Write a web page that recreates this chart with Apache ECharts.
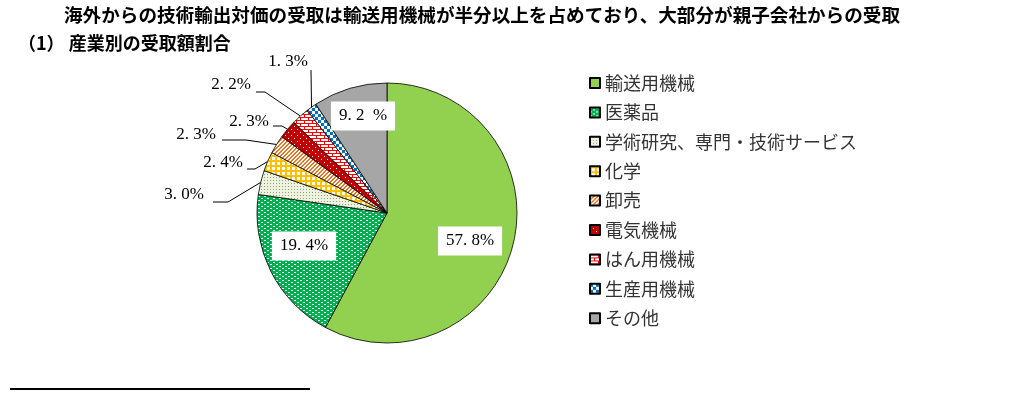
<!DOCTYPE html>
<html>
<head>
<meta charset="UTF-8">
<title></title>
<style>
  html, body { margin: 0; padding: 0; background: #fff; }
  #container { width: 1010px; height: 404px; }
</style>
</head>
<body>
<div id="container"></div>
<script src="https://cdn.jsdelivr.net/npm/echarts@6/dist/echarts.min.js"></script>
<script>
// data
var categories = ['輸送用機械', '医薬品', '学術研究、専門・技術サービス', '化学', '卸売',
  '電気機械', 'はん用機械', '生産用機械', 'その他'];
var shares = [57.8, 19.4, 3.0, 2.4, 2.3, 2.3, 2.2, 1.3, 9.2];
var insideLabels = [0, 1, 8];

var titleText = '海外からの技術輸出対価の受取は輸送用機械が半分以上を占めており、大部分が親子会社からの受取';
var subTitleText = '（1） 産業別の受取額割合';

// small tiles used as pattern fills
function tile(w, h, bg, fg, cells) {
  var c = document.createElement('canvas');
  c.width = w;
  c.height = h;
  var g = c.getContext('2d');
  g.fillStyle = bg;
  g.fillRect(0, 0, w, h);
  g.fillStyle = fg;
  cells.forEach(function (r) { g.fillRect(r[0], r[1], r[2], r[3]); });
  return { image: c, repeat: 'repeat' };
}

var fills = [
  '#92D050',
  tile(6, 4, '#00B050', '#FFFFFF', [[0, 0, 2, 1], [3, 2, 2, 1]]),
  tile(3, 3, '#EEF2E0', '#8DA46A', [[0, 0, 1, 1]]),
  tile(5, 5, '#FFFFFF', '#FFC000', [[0, 0, 5, 2], [0, 0, 2, 5]]),
  tile(4, 4, '#FFFFFF', '#E9761F', [[0, 3, 2, 1], [1, 2, 2, 1], [2, 1, 2, 1], [3, 0, 1, 1], [0, 0, 1, 1]]),
  tile(6, 6, '#C00000', '#FFFFFF', [[0, 0, 1, 1], [3, 3, 1, 1]]),
  tile(8, 6, '#FFFFFF', '#FF0000', [[0, 0, 8, 1], [0, 3, 8, 1], [0, 0, 1, 3], [4, 3, 1, 3]]),
  tile(6, 6, '#FFFFFF', '#0070C0', [[0, 0, 3, 3], [3, 3, 3, 3]]),
  '#A6A6A6'
];

// where each label sits; outer labels get an elbowed leader line
var labelSpots = [
  { x: 470, y: 241 },
  { x: 304, y: 246 },
  { x: 204, y: 195, line: [[228, 202], [213, 202]] },
  { x: 243, y: 163, line: [[255, 169], [247, 169]] },
  { x: 216, y: 135, line: [[246, 140], [222, 140]] },
  { x: 269, y: 122, line: [[282, 126], [273, 126]] },
  { x: 251, y: 85, line: [[265, 92], [256, 92]] },
  { x: 308, y: 62, line: [[311, 70]] },
  { x: 363, y: 116 }
];

function pctText(v, idx) {
  var s = v.toFixed(1).replace('.', '. ');
  return s + (idx === 8 ? '  ' : '') + '%';
}

var pieData = categories.map(function (name, i) {
  var item = {
    name: name,
    value: shares[i],
    itemStyle: { color: fills[i] }
  };
  if (insideLabels.indexOf(i) >= 0) {
    item.label = {
      position: 'inside',
      backgroundColor: '#FFFFFF',
      padding: [6, 8]
    };
    item.labelLine = { show: false };
  }
  return item;
});

var myChart = echarts.init(document.getElementById('container'));

var option = {
  animation: false,
  textStyle: { fontFamily: "'Noto Sans CJK JP', sans-serif" },
  title: [{
    text: titleText,
    left: 64,
    top: 6,
    padding: 0,
    textStyle: { fontSize: 18.6, fontWeight: 'bold', color: '#000' }
  }, {
    text: subTitleText,
    left: 18,
    top: 34,
    padding: 0,
    textStyle: { fontSize: 18, fontWeight: 'bold', color: '#000' }
  }],
  legend: {
    orient: 'vertical',
    left: 589,
    top: 74,
    padding: 0,
    icon: 'rect',
    itemWidth: 10,
    itemHeight: 10,
    itemGap: 11.4,
    selectedMode: false,
    data: categories,
    textStyle: { fontSize: 18, lineHeight: 18, color: '#333' }
  },
  graphic: [{
    type: 'line',
    shape: { x1: 10, y1: 389, x2: 310, y2: 389 },
    style: { stroke: '#000', lineWidth: 2 }
  }],
  series: [{
    type: 'pie',
    center: [387, 213],
    radius: 130,
    startAngle: 90,
    clockwise: true,
    avoidLabelOverlap: false,
    minShowLabelAngle: 0,
    emphasis: { disabled: true },
    itemStyle: { borderColor: '#000', borderWidth: 0.8 },
    label: {
      show: true,
      position: 'outside',
      color: '#000',
      fontSize: 17,
      lineHeight: 17,
      fontFamily: "'Liberation Serif', serif",
      formatter: function (p) { return pctText(p.value, p.dataIndex); }
    },
    labelLine: {
      show: true,
      length: 10,
      length2: 10,
      lineStyle: { color: '#000', width: 1 }
    },
    labelLayout: function (params) {
      var s = labelSpots[params.dataIndex];
      var o = {
        x: s.x,
        y: s.y,
        align: s.line ? 'right' : 'center',
        verticalAlign: 'middle'
      };
      if (s.line && params.labelLinePoints) {
        o.labelLinePoints = [params.labelLinePoints[0]].concat(s.line);
      }
      return o;
    },
    data: pieData
  }]
};

myChart.setOption(option);
</script>
</body>
</html>
